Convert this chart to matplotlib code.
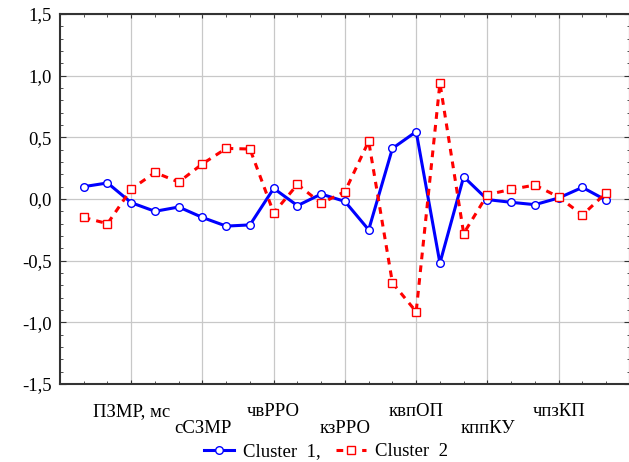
import numpy as np
import matplotlib
matplotlib.use('Agg')
import matplotlib.pyplot as plt
from matplotlib.ticker import MultipleLocator, FixedLocator

plt.rcParams['font.family'] = ['Liberation Serif', 'DejaVu Serif']

positions = np.arange(1, 24)
cluster1 = [0.10, 0.13, -0.03, -0.10, -0.065, -0.15, -0.22, -0.21, 0.086, -0.054, 0.04, -0.02,
            -0.25, 0.41, 0.546, -0.52, 0.18, -0.005, -0.027, -0.046, 0.008, 0.094, -0.01]
cluster2 = [-0.15, -0.20, 0.08, 0.215, 0.137, 0.285, 0.41, 0.405, -0.113, 0.118, -0.035, 0.06,
            0.468, -0.68, -0.914, 0.94, -0.28, 0.035, 0.078, 0.113, 0.016, -0.13, 0.05]

tick_pos = [3, 6, 9, 12, 15, 18, 21]
tick_labels = ['ПЗМР, мс', 'сСЗМР', 'чвРРО', 'кзРРО', 'квпОП', 'кппКУ', 'чпзКП']
y_ticks = [-1.5, -1.0, -0.5, 0.0, 0.5, 1.0, 1.5]
y_labels = ['-1,5', '-1,0', '-0,5', '0,0', '0,5', '1,0', '1,5']

fs = 13.5

fig = plt.figure(figsize=(6.29, 4.62), dpi=100)
ax = fig.add_axes([0.0954, 0.1688, 0.906, 0.801])

ax.plot(positions, cluster1, color='#0000ff', lw=2.2, marker='o', ms=5.5,
        mfc='white', mec='#0000ff', mew=1, label='Cluster  1,')
ax.plot(positions, cluster2, color='#ff0000', lw=2.2, dashes=(2.2, 2), marker='s', ms=5.5,
        mfc='white', mec='#ff0000', mew=1, label='Cluster  2')

ax.set_xlim(0, 24)
ax.set_ylim(-1.5, 1.5)

ax.xaxis.set_major_locator(FixedLocator(tick_pos))
ax.set_xticklabels([('\n' + t) if i % 2 else t for i, t in enumerate(tick_labels)], fontsize=fs,
                   linespacing=0.95)
ax.xaxis.set_minor_locator(MultipleLocator(1))
ax.set_yticks(y_ticks)
ax.set_yticklabels(y_labels, fontsize=fs)
ax.yaxis.set_minor_locator(MultipleLocator(0.1))

ax.tick_params(which='both', direction='in', top=True, right=True, color='#333333')
ax.tick_params(which='major', length=4, pad=6)
ax.tick_params(which='minor', length=2)
ax.tick_params(axis='x', which='major', length=3, pad=14)

ax.grid(True, which='major', color='#c8c8c8', lw=0.9)
for s in ax.spines.values():
    s.set_color('#333333')
    s.set_linewidth(1.5)

fig.legend(loc='center', bbox_to_anchor=(0.518, 0.022), ncol=2, frameon=False,
           fontsize=fs, handlelength=1.6, columnspacing=0.8, handletextpad=0.5)

fig.savefig('out.png', dpi=100)
